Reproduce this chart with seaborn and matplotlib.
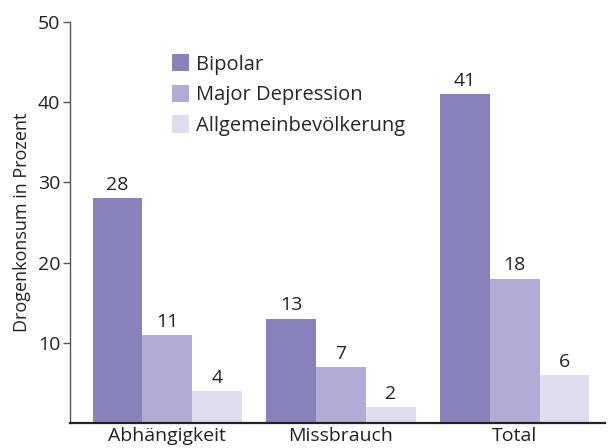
import pandas as pd
import seaborn as sns
import matplotlib.pyplot as plt

kategorien = ['Abhängigkeit', 'Missbrauch', 'Total']
gruppen = ['Bipolar', 'Major Depression', 'Allgemeinbevölkerung']
bipolar = [28, 13, 41]
major_depression = [11, 7, 18]
allgemein = [4, 2, 6]
farben = ['#8782bc', '#b0acd6', '#dfdcee']

df = pd.DataFrame({
	'kategorie': kategorien * 3,
	'gruppe': [g for g in gruppen for _ in kategorien],
	'wert': bipolar + major_depression + allgemein,
})

sns.set_style('white')
plt.rcParams['font.family'] = ['Open Sans', 'DejaVu Sans']

fig, ax = plt.subplots(figsize=(6.08, 4.48), dpi=100)
fig.subplots_adjust(left=0.115, right=0.995, bottom=0.056, top=0.951)

sns.barplot(
	data=df,
	x='kategorie',
	y='wert',
	hue='gruppe',
	palette=farben,
	width=0.86,
	saturation=1,
	linewidth=0,
	ax=ax
)

for c in ax.containers:
	ax.bar_label(c, padding=3, fontsize=14, color='#222222')

ax.set_ylim(0, 50)
ax.set_xlim(-0.56, 2.52)
ax.set_yticks([10, 20, 30, 40, 50])
ax.set_xlabel('')
ax.set_ylabel('Drogenkonsum in Prozent', fontsize=13, color='#222222', labelpad=5)
ax.tick_params(axis='y', length=5, width=1, color='#555555', labelsize=14, labelcolor='#222222', pad=2, left=True)
ax.tick_params(axis='x', length=0, labelsize=14, labelcolor='#222222', pad=3)

sns.despine(ax=ax)
ax.spines['left'].set_color('#555555')
ax.spines['left'].set_linewidth(1)
ax.spines['bottom'].set_color('#222222')
ax.spines['bottom'].set_linewidth(1.6)

ax.legend(
	loc='upper left',
	bbox_to_anchor=(0.165, 0.955),
	frameon=False,
	fontsize=14.5,
	handlelength=0.85,
	handleheight=0.95,
	handletextpad=0.35,
	labelspacing=0.5,
	borderpad=0.2,
)

fig.savefig('out.png', dpi=100)
